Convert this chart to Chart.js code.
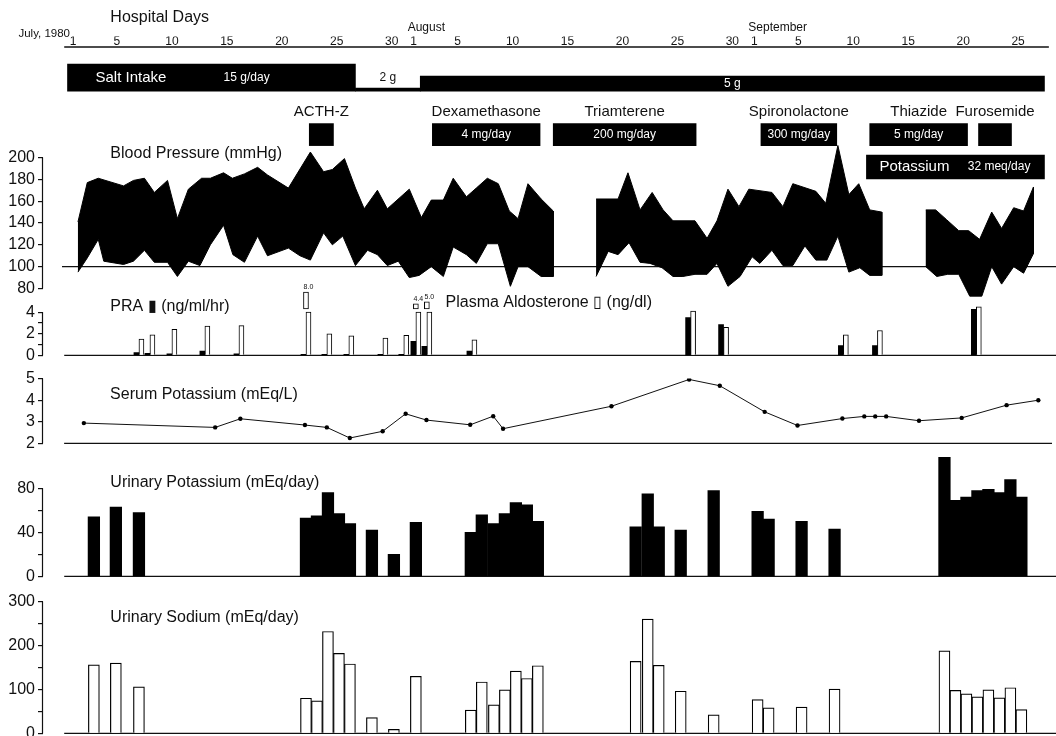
<!DOCTYPE html>
<html>
<head>
<meta charset="utf-8">
<title>Hospital course</title>
<script src="https://cdn.jsdelivr.net/npm/chart.js@4.4.1/dist/chart.umd.min.js"></script>
<style>
  html, body { margin: 0; padding: 0; background: #fff; overflow: hidden; }
  #wrap { position: relative; width: 1056px; height: 736px; overflow: hidden; }
  #wrap canvas { position: absolute; left: 0; display: block; }
</style>
</head>
<body>
<div id="wrap"></div>
<script>
// Hospital day 1 = July 1, 1980 (Aug 1 = day 32, Sep 1 = day 63)
const tickDays = [1, 5, 10, 15, 20, 25, 30, 32, 36, 41, 46, 51, 56, 61, 63, 67, 72, 77, 82, 87];
const tickLabels = ['1', '5', '10', '15', '20', '25', '30', '1', '5', '10', '15', '20', '25', '30', '1', '5', '10', '15', '20', '25'];
const monthNames = ['July, 1980', 'August', 'September'];
const monthStartDays = [1, 32, 63];

// salt intake
const saltDoses = ['15 g/day', '2 g', '5 g'];
const saltStart = [0.5, 26.7, 32.6];
const saltEnd = [26.7, 32.6, 89.4];

// drugs
const drugNames = ['ACTH-Z', 'Dexamethasone', 'Triamterene', 'Spironolactone', 'Thiazide', 'Furosemide'];
const drugDoses = ['', '4 mg/day', '200 mg/day', '300 mg/day', '5 mg/day', ''];
const drugStart = [22.5, 33.7, 44.7, 63.6, 73.5, 83.4];
const drugEnd = [24.7, 43.5, 57.7, 70.5, 82.4, 86.4];

// potassium supplement
const kSupplement = ['Potassium', '32 meq/day'];
const kSupplementStart = [73.2];
const kSupplementEnd = [89.4];

// blood pressure, three recording periods (mmHg)
const bpSysDays = [
  [1.45, 2.3, 3.3, 5.6, 6.5, 7.5, 8.4, 9.6, 10.5, 11.5, 12.7, 13.5, 14.7, 15.5, 16.6, 17.8, 18.7, 20.6, 22.6, 23.8,
   24.6, 25.7, 26.7, 27.5, 28.7, 29.6, 31.6, 32.7, 33.6, 34.7, 35.6, 36.8, 37.7, 38.7, 39.7, 40.7, 41.5, 42.4, 43.6, 44.7],
  [48.6, 50.6, 51.5, 52.6, 53.7, 54.7, 55.6, 57.6, 58.7, 59.6, 60.6, 61.6, 62.5, 64.6, 65.6, 66.5, 68.6, 69.5, 70.6,
   71.6, 72.5, 73.5, 74.6],
  [78.6, 79.5, 80.5, 81.6, 82.5, 83.5, 84.6, 85.5, 86.6, 87.5, 88.4]
];
const bpSys = [
  [141, 177, 181, 174, 179, 181, 168, 179, 144, 171, 181, 181, 186, 181, 185, 191, 184, 172, 205, 187,
   189, 199, 172, 153, 170, 153, 171, 145, 161, 161, 181, 164, 172, 181, 176, 151, 144, 176, 162, 151],
  [162, 162, 186, 152, 168, 152, 142, 142, 126, 142, 171, 155, 171, 168, 155, 176, 169, 158, 211, 166, 176, 152, 150],
  [152, 152, 143, 133, 133, 125, 150, 135, 154, 151, 173]
];
const bpDiaDays = [
  [1.45, 2.3, 3.3, 3.8, 5.6, 6.5, 7.5, 8.4, 9.6, 10.5, 11.5, 12.55, 13.5, 14.7, 15.55, 16.6, 17.8, 18.7, 20.6, 21.65,
   22.6, 23.8, 24.6, 25.55, 26.7, 27.8, 28.7, 29.6, 30.6, 31.6, 32.5, 33.6, 34.7, 35.6, 36.8, 37.7, 38.7, 39.7, 40.8,
   41.5, 42.4, 43.6, 44.7],
  [48.6, 49.7, 50.6, 51.6, 52.6, 53.5, 54.6, 55.6, 56.5, 57.6, 58.7, 59.6, 60.6, 61.7, 62.8, 63.5, 64.6, 65.6, 66.5,
   67.6, 68.6, 69.6, 70.6, 71.6, 72.6, 73.5, 74.6],
  [78.6, 79.6, 80.6, 81.6, 82.6, 83.7, 84.6, 85.5, 86.6, 87.5, 88.4]
];
const bpDia = [
  [95, 108, 125, 105, 102, 105, 115, 104, 104, 91, 105, 101, 120, 138, 111, 104, 128, 110, 117, 110,
   106, 131, 120, 128, 101, 115, 111, 101, 105, 90, 92, 100, 91, 118, 111, 103, 121, 121, 82,
   100, 100, 91, 91],
  [91, 114, 111, 122, 104, 103, 99, 91, 91, 93, 93, 103, 82, 91, 109, 103, 115, 101, 101,
   119, 106, 106, 128, 95, 99, 92, 92],
  [100, 91, 93, 93, 73, 73, 100, 84, 100, 94, 112]
];

// plasma renin activity (ng/ml/hr) and aldosterone (ng/dl)
const hormoneDays = [7, 8, 10, 13, 16.1, 22.2, 24.1, 26.1, 29.2, 31.1, 32.2, 33.2, 37.3, 57.2, 60.2, 71.1, 74.2, 83.2];
const pra = [0.25, 0.2, 0.15, 0.4, 0.15, 0.1, 0.1, 0.1, 0.1, 0.1, 1.3, 0.85, 0.4, 3.5, 2.85, 0.9, 0.9, 4.25];
const aldosterone = [1.5, 1.9, 2.4, 2.7, 2.75, 8.0, 2.0, 1.8, 1.6, 1.85, 4.4, 5.0, 1.45, 4.1, 2.6, 1.9, 2.3, 4.5];
const aldoBrokenDays = [22.2, 32.2, 33.2];

// serum potassium (mEq/L)
const serumKDays = [2, 14, 16.3, 22.2, 24.2, 26.3, 29.3, 31.4, 33.3, 37.3, 39.4, 40.3, 50.2, 57.3, 60.1, 64.2,
  67.2, 71.3, 73.3, 74.3, 75.3, 78.3, 82.2, 86.3, 89.2];
const serumK = [2.94, 2.74, 3.14, 2.85, 2.74, 2.25, 2.56, 3.37, 3.08, 2.86, 3.26, 2.68, 3.72, 4.96, 4.67, 3.46,
  2.83, 3.15, 3.25, 3.25, 3.25, 3.05, 3.18, 3.77, 4.0];

// urinary excretion (mEq/day)
const urineDays = [2.9, 4.9, 7.0, 22.2, 23.2, 24.2, 25.2, 26.2, 28.2, 30.2, 32.2, 37.2, 38.2, 39.3, 40.3, 41.3,
  42.3, 43.3, 52.2, 53.3, 54.3, 56.3, 59.3, 63.3, 64.3, 67.3, 70.3, 80.3, 81.3, 82.3, 83.3, 84.3, 85.3, 86.3, 87.3];
const urineK = [54, 63, 58, 53, 55, 76, 57, 48, 42, 20, 49, 40, 56, 48, 57, 67, 65, 50, 45, 75, 45, 42, 78, 59,
  52, 50, 43, 108, 69, 72, 78, 79, 76, 88, 72];
const urineNa = [156, 160, 106, 80, 74, 232, 182, 158, 36, 9, 130, 53, 117, 65, 99, 142, 125, 154, 164, 260, 155,
  96, 42, 77, 58, 60, 101, 188, 98, 90, 83, 99, 81, 104, 54];

// layout / style
const FONT = '"Liberation Sans", Arial, Helvetica, sans-serif';
const INK = '#111';
const DAY_MIN = -1.73, DAY_MAX = 90.45;
const PAD = 12;
const TITLE_DAY = 4.4;
const AXIS_TOP = 47;             // page y of the hospital-day axis line
const ROW_PX = 30;               // top panel: one row unit = 30 px
const SALT_BASE = 1.47;
const SALT_PX = [27, 3, 15];
const DRUG_ROW = 2.92, KSUP_ROW = 4.0;
const ALDO_CUT = 4.0, CAP_FROM = 4.3;

Chart.defaults.font.family = FONT;
Chart.defaults.color = INK;

const wrap = document.getElementById('wrap');

function addCanvas(top, height) {
  const c = document.createElement('canvas');
  c.width = 1056;
  c.height = height;
  c.style.top = top + 'px';
  wrap.appendChild(c);
  return c;
}

// axis line, baseline and text notes, all placed through the chart scales
function decor(cfg) {
  return {
    id: 'decor',
    beforeDatasetsDraw(chart) {
      const {ctx, chartArea, scales: {x, y}} = chart;
      ctx.save();
      ctx.strokeStyle = INK;
      if (cfg.axis) {
        const t = y.ticks;
        ctx.lineWidth = 1.2;
        ctx.beginPath();
        ctx.moveTo(chartArea.left - 0.5, y.getPixelForValue(t[0].value));
        ctx.lineTo(chartArea.left - 0.5, y.getPixelForValue(t[t.length - 1].value));
        ctx.stroke();
      }
      if (cfg.baseline !== undefined) {
        const py = y.getPixelForValue(cfg.baseline);
        ctx.lineWidth = 1.4;
        ctx.beginPath();
        ctx.moveTo(x.getPixelForValue(cfg.from), py);
        ctx.lineTo(cfg.to !== undefined ? x.getPixelForValue(cfg.to) : chartArea.right, py);
        ctx.stroke();
      }
      ctx.restore();
    },
    afterDatasetsDraw(chart) {
      const {ctx, width, scales: {x, y}} = chart;
      ctx.save();
      ctx.textBaseline = 'middle';
      (cfg.notes || []).forEach(n => {
        ctx.font = (n.size || 16) + 'px ' + FONT;
        ctx.fillStyle = n.color || INK;
        ctx.textAlign = n.align || 'left';
        let px = x.getPixelForValue(n.day) + (n.dx || 0);
        const py = y.getPixelForValue(n.value) + (n.dy || 0);
        if (n.fit) {
          const w = ctx.measureText(n.text).width;
          px = Math.min(px, width - w / 2 - 1);
        }
        ctx.fillText(n.text, px, py);
      });
      ctx.restore();
    }
  };
}

function valueAxis(min, max, step, last, labelEvery) {
  return {
    type: 'linear', min, max, offset: false,
    afterBuildTicks: s => { s.ticks = s.ticks.filter(t => t.value <= last); },
    afterFit: s => { s.width = 43; },
    border: { display: false },
    grid: { drawOnChartArea: false, drawTicks: true, tickLength: 5, color: INK, lineWidth: 1.2 },
    ticks: {
      stepSize: step, includeBounds: false, autoSkip: false, padding: 3, color: INK, font: { size: 16 },
      callback: v => (Math.abs(v / labelEvery - Math.round(v / labelEvery)) < 1e-6 ? v : '')
    }
  };
}

function makePanel(type, top, height, yAxis, datasets, deco) {
  return new Chart(addCanvas(top, height), {
    type,
    data: { datasets },
    options: {
      responsive: false, animation: false, events: [],
      layout: { padding: { left: 0, right: 0, top: PAD, bottom: PAD } },
      plugins: { legend: { display: false }, tooltip: { enabled: false } },
      scales: {
        x: { type: 'linear', min: DAY_MIN, max: DAY_MAX, offset: false, display: false },
        y: yAxis
      }
    },
    plugins: [decor(deco)]
  });
}

// ---------- top: hospital days and treatments ----------
const center = (a, b) => (a + b) / 2;
const topNotes = [
  { text: 'Hospital Days', day: TITLE_DAY, value: -0.97, size: 16 },
  ...monthNames.map((m, i) => i === 0
    ? { text: m, day: monthStartDays[i], dx: -3, value: -0.45, size: 11.5, align: 'right' }
    : { text: m, day: monthStartDays[i], dx: -6, value: -0.66, size: 12 }),
  { text: 'Salt Intake', day: saltStart[0], dx: 28, value: SALT_BASE - SALT_PX[0] / 2 / ROW_PX, size: 15, color: '#fff' },
  ...saltDoses.map((d, i) => ({
    text: d,
    day: i === 0 ? 16.8 : center(saltStart[i], saltEnd[i]),
    value: SALT_BASE - SALT_PX[i === 1 ? 0 : i] / 2 / ROW_PX,
    size: 12, align: 'center', color: i === 1 ? INK : '#fff'
  })),
  ...drugNames.map((n, i) => ({ text: n, day: center(drugStart[i], drugEnd[i]), value: 2.17, size: 15, align: 'center', fit: true })),
  ...drugDoses.map((d, i) => ({ text: d, day: center(drugStart[i], drugEnd[i]), value: DRUG_ROW, size: 12, align: 'center', color: '#fff' })),
  { text: kSupplement[0], day: kSupplementStart[0], dx: 13, value: KSUP_ROW, size: 15, color: '#fff' },
  { text: kSupplement[1], day: kSupplementEnd[0], dx: -14, value: KSUP_ROW, size: 12, color: '#fff', align: 'right' }
];

const treatCanvas = addCanvas(0, 250);
const treatChart = new Chart(treatCanvas, {
  type: 'bar',
  data: {
    datasets: [
      ...saltDoses.map((d, i) => ({
        label: 'Salt ' + d, grouped: false, barThickness: SALT_PX[i], backgroundColor: '#000', borderWidth: 0,
        data: [{ x: [saltStart[i], saltEnd[i]], y: SALT_BASE - SALT_PX[i] / 2 / ROW_PX }]
      })),
      {
        label: 'Drugs', grouped: false, backgroundColor: '#000', borderWidth: 0,
        barThickness: 22,
        data: drugNames.map((n, i) => ({ x: [drugStart[i], drugEnd[i]], y: DRUG_ROW }))
      },
      {
        label: 'Potassium', grouped: false, barThickness: 24, backgroundColor: '#000', borderWidth: 0,
        data: kSupplementStart.map((s, i) => ({ x: [s, kSupplementEnd[i]], y: KSUP_ROW }))
      }
    ]
  },
  options: {
    indexAxis: 'y',
    responsive: false, animation: false, events: [],
    layout: { padding: { left: 43, right: 0, top: 32.6, bottom: 0 } },
    plugins: { legend: { display: false }, tooltip: { enabled: false } },
    scales: {
      x: {
        type: 'linear', position: 'top', min: DAY_MIN, max: DAY_MAX, offset: false,
        afterBuildTicks: s => { s.ticks = tickDays.map(v => ({ value: v })); },
        grid: { display: false, drawTicks: false }, border: { display: false },
        ticks: { autoSkip: false, maxRotation: 0, padding: -2, color: INK, font: { size: 12 },
          callback: (v, i) => tickLabels[i] }
      },
      y: { type: 'linear', display: false, offset: false, reverse: true, min: 0, max: 5 }
    }
  },
  plugins: [decor({ baseline: 0, from: 0.2, to: 89.8, notes: topNotes })]
});
// keep the axis line at AXIS_TOP and rows at ROW_PX whatever the layout reserved
{
  const ca = treatChart.chartArea;
  treatCanvas.style.top = (AXIS_TOP - ca.top) + 'px';
  treatChart.options.scales.y.max = (ca.bottom - ca.top) / ROW_PX;
  treatChart.update();
}

// ---------- blood pressure ----------
makePanel('line', 128, 184, valueAxis(70, 215.5, 20, 200, 20),
  bpSys.map((sys, k) => ({
    label: 'BP ' + (k + 1), fill: 'shape', backgroundColor: '#000', borderColor: '#000', borderWidth: 1,
    pointRadius: 0, tension: 0,
    data: sys.map((v, i) => ({ x: bpSysDays[k][i], y: v }))
      .concat(bpDia[k].map((v, i) => ({ x: bpDiaDays[k][i], y: v })).reverse())
  })),
  { axis: true, baseline: 100, from: 0, notes: [{ text: 'Blood Pressure (mmHg)', day: TITLE_DAY, value: 204 }] });

// ---------- PRA and aldosterone ----------
const capTop = v => CAP_FROM + Math.min(1.8, 0.35 + (v - ALDO_CUT) * 0.3);
const brokenIdx = aldoBrokenDays.map(d => hormoneDays.indexOf(d));
makePanel('bar', 270, 98, valueAxis(0, 6.73, 1, 4, 2), [
  {
    label: 'PRA', backgroundColor: '#000', borderWidth: 0, barThickness: 5,
    data: hormoneDays.map((d, i) => ({ x: d, y: pra[i] }))
  },
  {
    label: 'Aldosterone', backgroundColor: '#fff', borderColor: '#000', borderWidth: 1, barThickness: 5,
    data: hormoneDays.map((d, i) => ({ x: d, y: brokenIdx.includes(i) ? Math.min(aldosterone[i], ALDO_CUT) : aldosterone[i] }))
  },
  {
    label: 'Aldosterone (off scale)', grouped: false, backgroundColor: '#fff', borderColor: '#000', borderWidth: 1,
    borderSkipped: false, barThickness: 5,
    data: brokenIdx.map(i => ({ x: hormoneDays[i], y: [CAP_FROM, capTop(aldosterone[i])] }))
  }
], {
  axis: true, baseline: 0, from: 0.2,
  notes: [
    { text: 'PRA \u25AE (ng/ml/hr)', day: TITLE_DAY, value: 4.55 },
    { text: 'Plasma Aldosterone \u25AF (ng/dl)', day: 34.9, value: 4.9 },
    ...brokenIdx.map(i => ({ text: aldosterone[i].toFixed(1), day: hormoneDays[i], dx: 2.5, value: capTop(aldosterone[i]) + 0.45, size: 7, align: 'center' }))
  ]
});

// ---------- serum potassium ----------
makePanel('line', 366, 90, valueAxis(2, 5, 1, 5, 1), [{
  label: 'Serum K', borderColor: INK, borderWidth: 1, tension: 0,
  pointRadius: 2.2, pointBackgroundColor: '#000', pointBorderWidth: 0,
  data: serumKDays.map((d, i) => ({ x: d, y: serumK[i] }))
}], { axis: true, baseline: 2, from: 0.2, notes: [{ text: 'Serum Potassium (mEq/L)', day: TITLE_DAY, value: 4.25 }] });

// ---------- urinary potassium ----------
makePanel('bar', 440, 149, valueAxis(0, 112.4, 20, 80, 40), [{
  label: 'Urinary K', backgroundColor: '#000', borderWidth: 0, barThickness: 11.6,
  data: urineDays.map((d, i) => ({ x: d, y: urineK[i] }))
}], { axis: true, baseline: 0, from: 0.2, notes: [{ text: 'Urinary Potassium (mEq/day)', day: TITLE_DAY, value: 85.4 }] });

// ---------- urinary sodium ----------
makePanel('bar', 589, 157, valueAxis(0, 300, 50, 300, 100), [{
  label: 'Urinary Na', backgroundColor: '#fff', borderColor: '#000', borderWidth: 1.2, barThickness: 11,
  data: urineDays.map((d, i) => ({ x: d, y: urineNa[i] }))
}], { axis: true, baseline: 0, from: 0.2, notes: [{ text: 'Urinary Sodium (mEq/day)', day: TITLE_DAY, value: 264 }] });
</script>
</body>
</html>
